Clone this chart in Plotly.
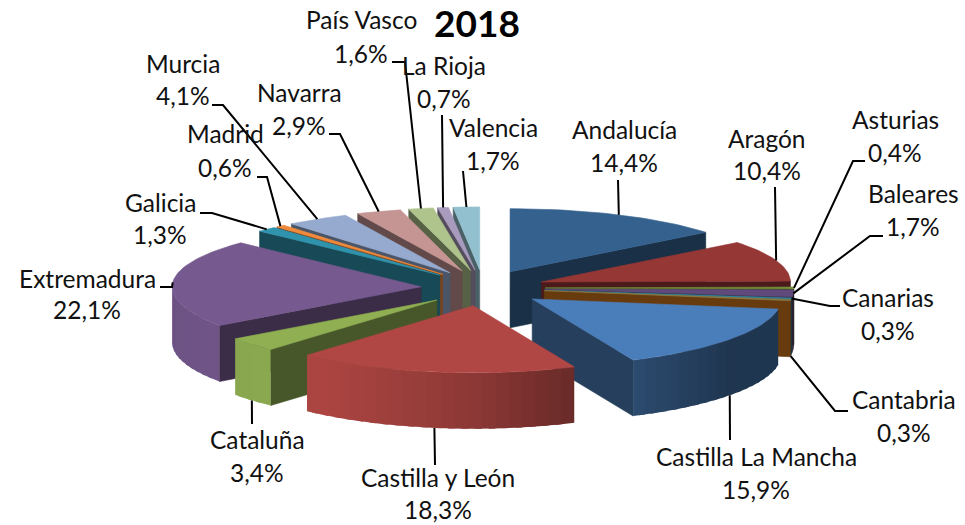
import numpy as np
import plotly.graph_objects as go

regions = ["Andalucía","Aragón","Asturias","Baleares","Canarias","Cantabria","Castilla La Mancha",
           "Castilla y León","Cataluña","Extremadura","Galicia","Madrid","Murcia","Navarra",
           "País Vasco","La Rioja","Valencia"]
shares = [14.4,10.4,0.4,1.7,0.3,0.3,15.9,18.3,3.4,22.1,1.3,0.6,4.1,2.9,1.6,0.7,1.7]

top_colors = ["#35618F","#953735","#77933C","#604A7B","#31859C","#8E7A45","#4A7EBB","#B04744",
              "#8FAF52","#76598F","#2F93AD","#F08A3C","#95AACE","#C59594","#AFC38C","#A99BBD","#92C0CF"]
wall_colors = list(top_colors)
wall_colors[5] = "#D0761F"

# Drawing geometry (pixels of the 965x525 page)
CX, CY, RX, RY, EX, EY, DEPTH = 483, 288, 249, 65, 62, 18, 56
WALL = 0.5
TEXT_DY = -2

# Label centres: name y, value y, x
label_xy = [(624,131,164),(767,140,172),(895,121,154),(913,195,228),(888,299,332),(904,401,434),
            (756,458,491),(438,479,511),(257,441,474),(87,280,311),(160,204,236),(225,135,169),
            (183,65,97),(299,94,127),(361,21,55),(444,67,100),(493,129,162)]
# Leader elbows, from the slice outward; whether it leaves from the wall's lower edge
leaders = [[(618,180)],[(775,187)],[(853,161),(865,161)],[(870,236),(883,236)],[(830,306),(840,306)],
           [(835,411),(848,411)],[(730,440)],[(435,465)],[(252,424)],[(172,287),(160,287)],
           [(212,213),(200,213)],[(267,177),(257,177)],[(223,105),(212,105)],[(340,134),(329,134)],
           [(405,62),(392,62)],[(442,115)],[(463,171)]]
from_bottom = [0,0,0,0,0,1,1,1,1,0,0,0,0,0,0,0,0]

def shade(hex_color, f):
    r, g, b = [int(hex_color[i:i+2], 16) for i in (1, 3, 5)]
    return f"rgb({int(r*f)},{int(g*f)},{int(b*f)})"

def project(t, offset, r):
    y_plane = (EY*offset[1] + r*np.cos(t)*RY/(1 + 0.03*np.cos(t)))
    return CX + EX*offset[0] + RX*r*np.sin(t), CY - y_plane

fig = go.Figure()

def poly(xs, ys, color, width=0.6):
    fig.add_trace(go.Scatter(x=list(xs)+[xs[0]], y=list(ys)+[ys[0]], mode="lines", fill="toself",
                             fillcolor=color, line=dict(color=color, width=width),
                             hoverinfo="skip", showlegend=False))

total = sum(shares)
edges = np.cumsum([0]+shares)/total*2*np.pi
mids = (edges[:-1]+edges[1:])/2

for i in sorted(range(len(shares)), key=lambda k: -np.cos(mids[k])):
    t0, t1 = edges[i], edges[i+1]
    off = (np.sin(mids[i]), np.cos(mids[i]))
    col = top_colors[i]
    wcol = wall_colors[i]
    ax, ay = project(0.0, off, 0.0)
    # radial walls
    for t, visible in ((t0, np.sin(t0) < 0), (t1, np.sin(t1) > 0)):
        if visible:
            rx, ry = project(t, off, 1.0)
            poly([ax, rx, rx, ax], [ay, ry, ry+DEPTH, ay+DEPTH], shade(wcol, WALL))
    # outer wall, in narrow bands that overlap the next one
    n = max(2, int((t1-t0)/np.radians(3)))
    ts = np.linspace(t0, t1, n+1)
    step = ts[1]-ts[0]
    for a, b in zip(ts[:-1], ts[1:]):
        if np.cos((a+b)/2) < 0:
            xa, ya = project(a, off, 1.0)
            xb, yb = project(min(b+step*0.5, t1), off, 1.0)
            f = np.interp(np.sin((a+b)/2), [-1,-0.6,0,0.4,0.8,1], [0.93,0.98,0.8,0.6,0.43,0.43])
            poly([xa, xb, xb, xa], [ya, yb, yb+DEPTH, ya+DEPTH], shade(wcol, f), width=0)
    # top face
    ts = np.linspace(t0, t1, max(3, int((t1-t0)/np.radians(1.5))+1))
    rim = [project(t, off, 1.0) for t in ts]
    poly([ax]+[p[0] for p in rim], [ay]+[p[1] for p in rim], col)

annotations = []
for i, name in enumerate(regions):
    off = (np.sin(mids[i]), np.cos(mids[i]))
    sx, sy = project(mids[i], off, 1.0)
    if from_bottom[i]:
        sy += DEPTH
    pts = [(sx, sy)] + leaders[i]
    fig.add_trace(go.Scatter(x=[p[0] for p in pts], y=[p[1] for p in pts], mode="lines",
                             line=dict(color="#000000", width=2), hoverinfo="skip", showlegend=False))
    lx, y1, y2 = label_xy[i]
    value = f"{shares[i]:.1f}".replace(".", ",") + "%"
    for txt, yy in ((name, y1), (value, y2)):
        annotations.append(dict(x=lx, y=yy+TEXT_DY, text=txt, showarrow=False, xanchor="center", yanchor="middle",
                                font=dict(family="Lato", size=24.5, color="#111111")))

annotations.append(dict(x=477, y=24+TEXT_DY, text="<b>2018</b>", showarrow=False, xanchor="center", yanchor="middle",
                        font=dict(family="Lato", size=37, color="#000000")))

fig.update_layout(width=965, height=525, margin=dict(l=0, r=0, t=0, b=0),
                  paper_bgcolor="white", plot_bgcolor="white", annotations=annotations,
                  xaxis=dict(range=[0,965], visible=False, fixedrange=True),
                  yaxis=dict(range=[525,0], visible=False, fixedrange=True))
fig.write_html("out.html", config=dict(displayModeBar=False),
               post_script="document.body.style.margin='0';document.documentElement.style.overflow='hidden';")
